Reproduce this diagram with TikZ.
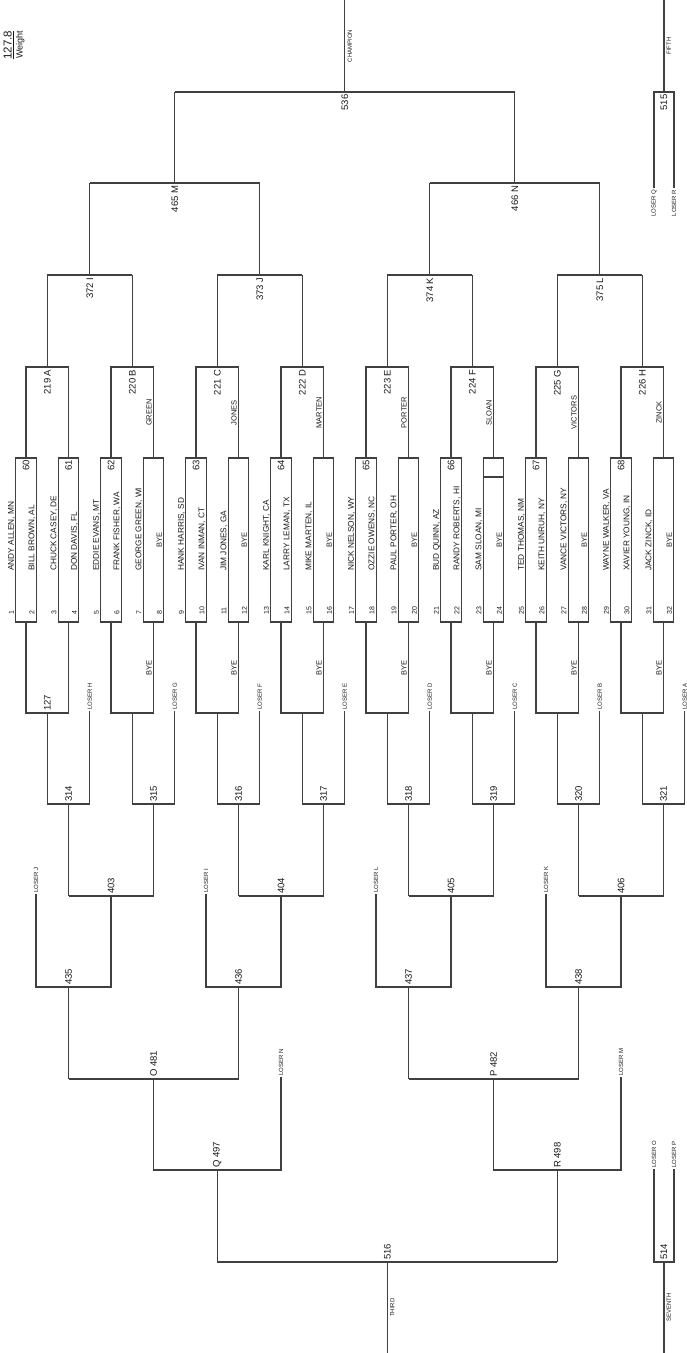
\documentclass[tikz,border=0pt]{standalone}
\usepackage{fontspec}
\setmainfont{Liberation Sans}
\begin{document}
\begin{tikzpicture}[x=1pt,y=-1pt,
  ln/.style={line width=1.2pt,draw=black!75},
  rot/.style={rotate=90,inner sep=0pt,text=black!90},
  nm/.style={rot,anchor=base west,font=\fontsize{8.3}{9}\selectfont},
  sn/.style={rot,anchor=base west,font=\fontsize{7}{8}\selectfont},
  bye/.style={rot,anchor=base,font=\fontsize{7.5}{8}\selectfont},
  num/.style={rot,font=\fontsize{9.5}{10}\selectfont},
  tiny/.style={rot,font=\fontsize{6}{6.5}\selectfont},
]
\useasboundingbox (0,0) rectangle (687,1353);

% weight label
\node[rot,align=center,anchor=center] (weight) at (14,45)
  {\fontsize{11.5}{12}\selectfont\underline{127.8}\\[-1pt]\fontsize{9}{10}\selectfont Weight};

% first-round boxes
\foreach \k in {0,...,15}{
  \pgfmathsetmacro\c{26+42.5*\k}
  \draw[ln] ({\c-10.25},458) rectangle ({\c+10.25},622);
}
\draw[ln] (483.25,477) -- (503.75,477);

% round 2 (top) and first consolation (bottom)
\foreach \j in {0,...,7}{
  \pgfmathsetmacro\m{47.25+85*\j}
  \draw[ln] ({\m-21.25},458) -- ({\m-21.25},367) -- ({\m+21.25},367) -- ({\m+21.25},458);
  \draw[ln] (\m,367) -- (\m,275);
  \draw[ln] ({\m-21.25},622) -- ({\m-21.25},713) -- ({\m+21.25},713) -- ({\m+21.25},622);
  \draw[ln] (\m,713) -- (\m,804) -- ({\m+42.5},804) -- ({\m+42.5},711);
  \draw[ln] ({\m+21.25},804) -- ({\m+21.25},896);
}
% round 3
\foreach \i in {0,...,3}{
  \pgfmathsetmacro\m{89.75+170*\i}
  \draw[ln] ({\m-42.5},275) -- ({\m+42.5},275);
  \draw[ln] (\m,275) -- (\m,183);
}
% round 4
\foreach \h in {0,1}{
  \pgfmathsetmacro\m{174.75+340*\h}
  \draw[ln] ({\m-85},183) -- ({\m+85},183);
  \draw[ln] (\m,183) -- (\m,92);
}
% final
\draw[ln] (174.75,92) -- (514.75,92);
\draw[ln] (344.75,92) -- (344.75,0);
% fifth
\draw[ln] (654,188) -- (654,92) -- (674,92) -- (674,188);
\draw[ln] (664,92) -- (664,0);

% consolation round 3 and 4
\foreach \i in {0,...,3}{
  \pgfmathsetmacro\a{68.5+170*\i}
  \draw[ln] (\a,896) -- ({\a+85},896);
  \draw[ln] ({\a+42.5},896) -- ({\a+42.5},987) -- ({\a-32.5},987) -- ({\a-32.5},894);
  \draw[ln] (\a,987) -- (\a,1079);
}
% consolation rounds 5, 6
\foreach \h in {0,1}{
  \pgfmathsetmacro\a{68.5+340*\h}
  \draw[ln] (\a,1079) -- ({\a+170},1079);
  \draw[ln] ({\a+85},1079) -- ({\a+85},1170) -- ({\a+212.5},1170) -- ({\a+212.5},1077);
  \draw[ln] ({\a+148.75},1170) -- ({\a+148.75},1262);
}
\draw[ln] (217.25,1262) -- (557.25,1262);
\draw[ln] (387.25,1262) -- (387.25,1353);
% seventh
\draw[ln] (654,1169) -- (654,1262) -- (674,1262) -- (674,1169);
\draw[ln] (664,1262) -- (664,1353);

% names
\foreach \s/\t in {1/{ANDY ALLEN, MN},2/{BILL BROWN, AL},3/{CHUCK CASEY, DE},4/{DON DAVIS, FL},
  5/{EDDIE EVANS, MT},6/{FRANK FISHER, WA},7/{GEORGE GREEN, WI},9/{HANK HARRIS, SD},
  10/{IVAN INMAN, CT},11/{JIM JONES, GA},13/{KARL KNIGHT, CA},14/{LARRY LEMAN, TX},
  15/{MIKE MARTEN, IL},17/{NICK NELSON, WY},18/{OZZIE OWENS, NC},19/{PAUL PORTER, OH},
  21/{BUD QUINN, AZ},22/{RANDY ROBERTS, HI},23/{SAM SLOAN, MI},25/{TED THOMAS, NM},
  26/{KEITH UNRUH, NY},27/{VANCE VICTORS, NY},29/{WAYNE WALKER, VA},30/{XAVIER YOUNG, IN},
  31/{JACK ZINCK, ID}}{
  \pgfmathsetmacro\lx{26+42.5*floor((\s-1)/2)-10.25+20.5*(1-mod(\s,2))}
  \node[nm] (n\s) at ({\lx-1.8},571) {\t};
}
\foreach \s in {8,12,16,20,24,28,32}{
  \pgfmathsetmacro\lx{26+42.5*floor((\s-1)/2)+10.25}
  \node[bye] (n\s) at ({\lx-1.8},540) {BYE};
}
% slot numbers
\foreach \s in {1,...,32}{
  \pgfmathsetmacro\lx{26+42.5*floor((\s-1)/2)-10.25+20.5*(1-mod(\s,2))}
  \node[sn] (sn\s) at ({\lx-1.8},615) {\s};
}
% bout numbers in boxes
\foreach \k/\t in {0/60,1/61,2/62,4/63,6/64,8/65,10/66,12/67,14/68}{
  \pgfmathsetmacro\c{26+42.5*\k}
  \node[num,anchor=east] (b\t) at (\c,460) {\t};
}
% round 2 labels
\foreach \j/\t in {0/{219 A},1/{220 B},2/{221 C},3/{222 D},4/{223 E},5/{224 F},6/{225 G},7/{226 H}}{
  \pgfmathsetmacro\m{47.25+85*\j}
  \node[num,anchor=east] (rt\j) at (\m,369.5) {\t};
}
\foreach \j/\t in {1/GREEN,2/JONES,3/MARTEN,4/PORTER,5/SLOAN,6/VICTORS,7/ZINCK}{
  \pgfmathsetmacro\x{68.5+85*\j}
  \node[bye] (adv\j) at ({\x-1.8},412.5) {\t};
  \node[bye] (cb\j) at ({\x-1.8},667.5) {BYE};
}
\foreach \i/\t in {0/{372 I},1/{373 J},2/{374 K},3/{375 L}}{
  \pgfmathsetmacro\m{89.75+170*\i}
  \node[num,anchor=east] (rq\i) at (\m,277.5) {\t};
}
\node[num,anchor=east] (rs0) at (174.75,185.5) {465 M};
\node[num,anchor=east] (rs1) at (514.75,185.5) {466 N};
\node[num,anchor=east] (rf) at (344.75,94.5) {536};
\node[tiny,anchor=north] (champ) at (347.5,46) {CHAMPION};
\node[num,anchor=east] (r515) at (664,94.5) {515};
\node[tiny,anchor=north] (fifth) at (666.5,46) {FIFTH};
\node[tiny,anchor=east] (lq) at (654,189.5) {LOSER Q};
\node[tiny,anchor=east] (lr) at (674,189.5) {LOSER R};

% consolation labels
\node[num,anchor=west] (c127) at (47.25,711) {127};
\foreach \j/\t/\l in {0/314/H,1/315/G,2/316/F,3/317/E,4/318/D,5/319/C,6/320/B,7/321/A}{
  \pgfmathsetmacro\m{47.25+85*\j}
  \node[num,anchor=west] (c\t) at ({\m+21.25},802) {\t};
  \node[tiny,anchor=west] (l\l) at ({\m+42.5},710) {LOSER \l};
}
\foreach \i/\t/\l in {0/403/J,1/404/I,2/405/L,3/406/K}{
  \pgfmathsetmacro\a{68.5+170*\i}
  \node[num,anchor=west] (c\t) at ({\a+42.5},894) {\t};
  \node[tiny,anchor=west] (l\l) at ({\a-32.5},893) {LOSER \l};
}
\foreach \i/\t in {0/435,1/436,2/437,3/438}{
  \pgfmathsetmacro\a{68.5+170*\i}
  \node[num,anchor=west] (c\t) at (\a,985) {\t};
}
\node[num,anchor=west] (c481) at (153.5,1077) {O 481};
\node[num,anchor=west] (c482) at (493.5,1077) {P 482};
\node[tiny,anchor=west] (lN) at (281,1076) {LOSER N};
\node[tiny,anchor=west] (lM) at (621,1076) {LOSER M};
\node[num,anchor=west] (c497) at (217.25,1168) {Q 497};
\node[num,anchor=west] (c498) at (557.25,1168) {R 498};
\node[num,anchor=west] (c516) at (387.25,1260) {516};
\node[tiny,anchor=north] (third) at (390,1307.5) {THIRD};
\node[tiny,anchor=west] (lO) at (654,1168) {LOSER O};
\node[tiny,anchor=west] (lP) at (674,1168) {LOSER P};
\node[num,anchor=west] (c514) at (664,1260) {514};
\node[tiny,anchor=north] (seventh) at (666.5,1307.5) {SEVENTH};
\end{tikzpicture}
\end{document}
